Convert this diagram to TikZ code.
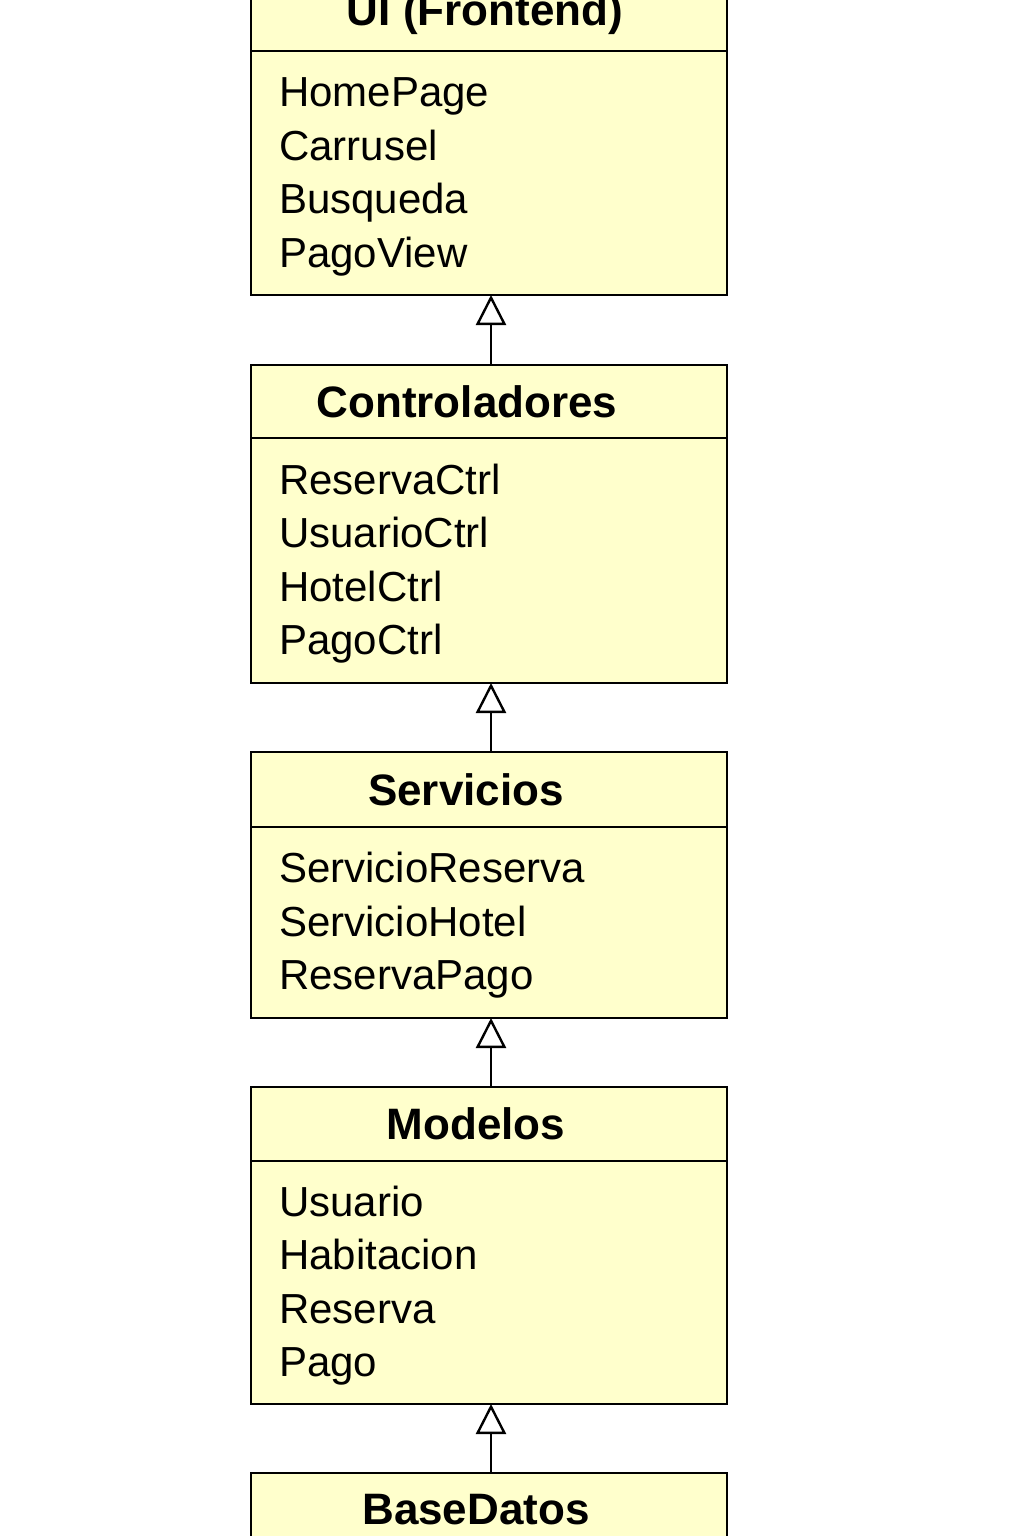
\documentclass[tikz,border=0pt]{standalone}
\usepackage{fontspec}
\setmainfont{Liberation Sans}
\usepackage{tikz}
\definecolor{amarillo}{HTML}{FFFFCC}
\usetikzlibrary{arrows.meta}
\tikzstyle{titulo}=[rectangle, draw=black, fill=amarillo, line width=1pt, minimum width=238pt, inner sep=0pt, outer sep=0pt]
\tikzstyle{nombre}=[inner sep=0pt, font=\fontsize{22}{26}\selectfont\bfseries]
\tikzstyle{cuerpo}=[rectangle, draw=black, fill=amarillo, line width=1pt, anchor=north, text width=210pt, inner xsep=14pt, inner ysep=0pt, outer sep=0pt, align=left, font=\fontsize{21}{26.75}\selectfont, execute at begin node={\rule{0pt}{18.3pt}}]
\tikzstyle{herencia}=[draw=black, line width=1.2pt, -{Triangle[open, length=15pt, width=15pt]}]

\begin{document}
\begin{tikzpicture}[x=0.5pt, y=-0.5pt]
	\useasboundingbox (0,0) rectangle (1024,1536);
	\clip (0,0) rectangle (1024,1536);
	% capas
	\node[titulo, minimum height=37pt] (ui) at (489,14){};
	\node[nombre] (ui-n) at (485,14){UI (Frontend)};
	\node[cuerpo, minimum height=122pt] (ui-c) at (ui.south){HomePage\\Carrusel\\Busqueda\\PagoView};
	\node[titulo, minimum height=36.5pt] (ctrl) at (489,401.5){};
	\node[nombre] (ctrl-n) at (467,401.5){Controladores};
	\node[cuerpo, minimum height=122.5pt] (ctrl-c) at (ctrl.south){ReservaCtrl\\UsuarioCtrl\\HotelCtrl\\PagoCtrl};
	\node[titulo, minimum height=37.5pt] (serv) at (489,789.5){};
	\node[nombre] (serv-n) at (466,789.5){Servicios};
	\node[cuerpo, minimum height=95.5pt] (serv-c) at (serv.south){ServicioReserva\\ServicioHotel\\ReservaPago};
	\node[titulo, minimum height=37pt] (mod) at (489,1124){};
	\node[nombre] (mod-n) at (476,1124){Modelos};
	\node[cuerpo, minimum height=121.5pt] (mod-c) at (mod.south){Usuario\\Habitacion\\Reserva\\Pago};
	\node[titulo, minimum height=37pt] (bd) at (489,1510){};
	\node[nombre] (bd-n) at (476,1510){BaseDatos};
	% dependencias
	\path[herencia] ([xshift=1pt]ctrl.north) -- ([xshift=1pt]ui-c.south);
	\path[herencia] ([xshift=1pt]serv.north) -- ([xshift=1pt]ctrl-c.south);
	\path[herencia] ([xshift=1pt]mod.north) -- ([xshift=1pt]serv-c.south);
	\path[herencia] ([xshift=1pt]bd.north) -- ([xshift=1pt]mod-c.south);
\end{tikzpicture}
\end{document}
